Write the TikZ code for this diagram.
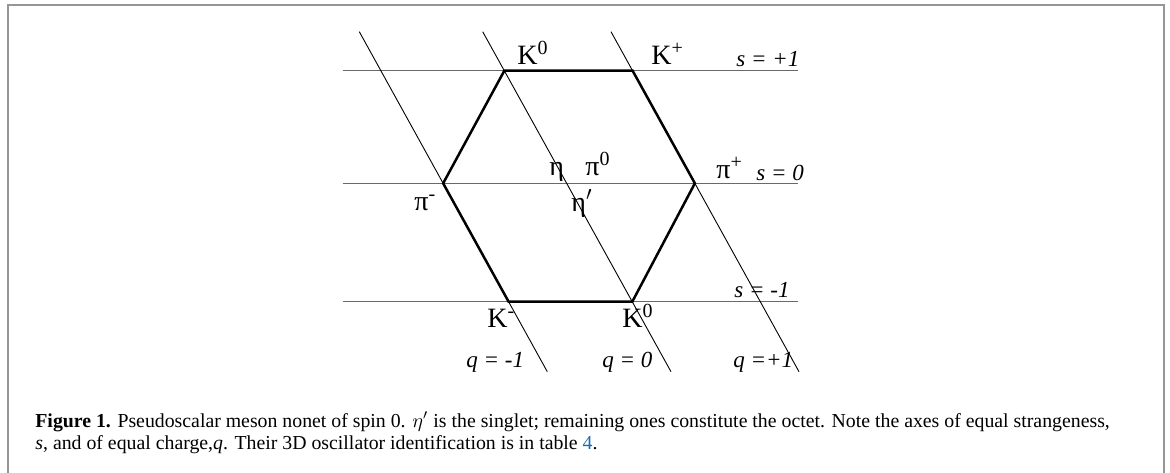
\documentclass[tikz,border=0pt]{standalone}
\usepackage{fontspec}
\setmainfont{Liberation Serif}
\usepackage{xcolor}
\usetikzlibrary{calc,positioning}

\definecolor{framegray}{RGB}{150,150,150}
\definecolor{axisgray}{RGB}{105,105,105}
\definecolor{linkblue}{RGB}{20,110,180}

\tikzset{
    saxis/.style={axisgray, line width=0.65pt},
    qaxis/.style={black, line width=0.45pt},
    hexside/.style={black, line width=1.25pt, line join=miter},
    meson/.style={font=\fontsize{14}{16}\selectfont, inner sep=0pt, anchor=base west},
    axislabel/.style={font=\fontsize{11.5}{13}\selectfont\itshape, inner sep=0pt, anchor=base west},
    caption/.style={font=\fontsize{9.9}{11}\selectfont, inner sep=0pt, anchor=base west}
}
\newcommand{\up}[1]{\raisebox{0.75ex}{\fontsize{10}{10}\selectfont #1}}

\begin{document}
\begin{tikzpicture}[x=0.5pt, y=-0.5pt]
    \useasboundingbox (0,0) rectangle (1170,472);

    % Frame (open at the bottom)
    \draw[framegray, line width=1pt] (8,474) -- (8,5) -- (1164,5) -- (1164,474);

    % Axes of equal strangeness s
    \coordinate (sp1a) at (342.7,70.7);  \coordinate (sp1b) at (798,70.7);
    \coordinate (s0a)  at (342.7,183.3); \coordinate (s0b)  at (798,183.3);
    \coordinate (sm1a) at (342.7,301.7); \coordinate (sm1b) at (798,301.7);
    \draw[saxis] (sp1a) -- (sp1b);
    \draw[saxis] (s0a) -- (s0b);
    \draw[saxis] (sm1a) -- (sm1b);

    % Axes of equal charge q
    \coordinate (qm1a) at (359.3,31.7); \coordinate (qm1b) at (547.3,371.7);
    \coordinate (q0a)  at (482.7,31.7); \coordinate (q0b)  at (671,371.7);
    \coordinate (qp1a) at (611,31.7);   \coordinate (qp1b) at (799,371.7);
    \draw[qaxis] (qm1a) -- (qm1b);
    \draw[qaxis] (q0a) -- (q0b);
    \draw[qaxis] (qp1a) -- (qp1b);

    % Octet hexagon
    \coordinate (Kz)  at (intersection of q0a--q0b and sp1a--sp1b);
    \coordinate (Kp)  at (intersection of qp1a--qp1b and sp1a--sp1b);
    \coordinate (pip) at (intersection of qp1a--qp1b and s0a--s0b);
    \coordinate (Kzb) at (intersection of q0a--q0b and sm1a--sm1b);
    \coordinate (Km)  at (intersection of qm1a--qm1b and sm1a--sm1b);
    \coordinate (pim) at (intersection of qm1a--qm1b and s0a--s0b);
    \draw[hexside] (Kz) -- (Kp) -- (pip) -- (Kzb) -- (Km) -- (pim) -- cycle;

    % Meson labels
    \node[meson] (lKz)  at (517,64)  {K\up{0}};
    \node[meson] (lKp)  at (651,64)  {K\up{+}};
    \node[meson] (leta) at (549,175) {η};
    \node[meson] (lpiz) at (585,175) {π\up{0}};
    \node[meson] (letp) at (571,211) {η$'$};
    \node[meson] (lpim) at (414,210) {π\up{-}};
    \node[meson] (lpip) at (716,178) {π\up{+}};
    \node[meson] (lKm)  at (487,327) {K\up{-}};
    \node[meson] (lKzb) at (622,327) {K\up{0}};

    % Axis labels
    \node[axislabel] (ls1)  at (736,66)  {s = +1};
    \node[axislabel] (ls0)  at (756,180) {s = 0};
    \node[axislabel] (lsm1) at (734,297) {s = -1};
    \node[axislabel] (lqm1) at (466,367) {q = -1};
    \node[axislabel] (lq0)  at (602,367) {q = 0};
    \node[axislabel] (lqp1) at (733,367) {q =+1};

    % Caption
    \node[caption] (cap1) at (35,427) {\textbf{Figure 1.} Pseudoscalar meson nonet of spin 0. $\eta'$ is the singlet; remaining ones constitute the octet. Note the axes of equal strangeness,};
    \node[caption] (cap2) at (35,449) {\textit{s}, and of equal charge,\textit{q}. Their 3D oscillator identification is in table \textcolor{linkblue}{4}.};
\end{tikzpicture}
\end{document}
